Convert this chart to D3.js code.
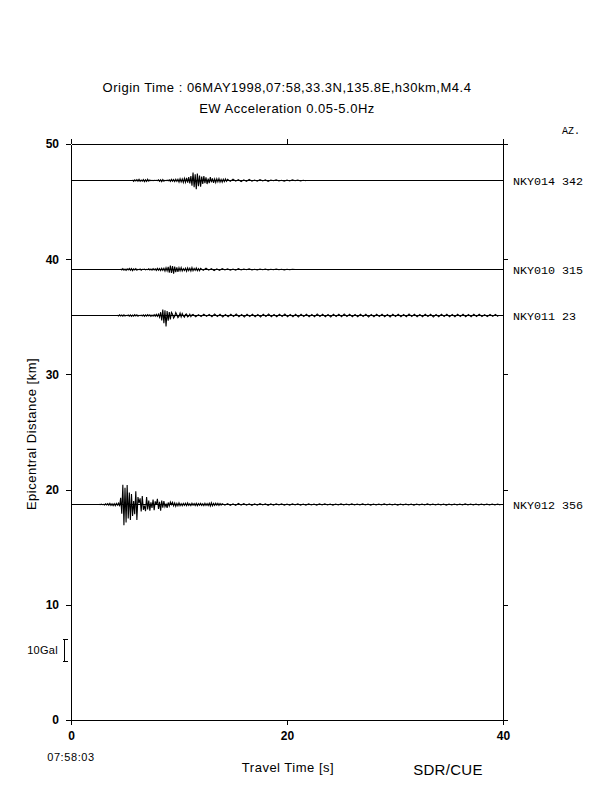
<!DOCTYPE html>
<html><head><meta charset="utf-8">
<script src="https://cdn.jsdelivr.net/npm/d3@7"></script>
<style>
html,body{margin:0;padding:0;background:#fff;}
svg{display:block;}
text{font-family:"Liberation Sans",Arial,sans-serif;fill:#000;}
</style></head>
<body>
<svg id="chart" width="612" height="792"></svg>
<script>
// ---------- data ----------
const titleLines = ["Origin Time : 06MAY1998,07:58,33.3N,135.8E,h30km,M4.4", "EW Acceleration 0.05-5.0Hz"];
const xTicks = [0, 20, 40];
const yTicks = [0, 10, 20, 30, 40, 50];
const stations = ["NKY014", "NKY010", "NKY011", "NKY012"];
const distances = [46.9, 39.15, 35.15, 18.75];
const azimuths = [342, 315, 23, 356];
const burstStart = [5.7, 4.6, 4.3, 2.6];   // s
const burstDt = 0.1;                        // s
const codaDt = 0.25;                        // s
const scaleGal = 10;

// acceleration samples (Gal)
const burst014 = [
  0.3,-0.4,0.3,-0.2,0.4,-0.3,0.5,-0.4,0.2,-0.3,
  0.4,-0.5,0.3,-0.4,0.6,-0.3,0.2,-0.1,0.1,-0.1,
  0.1,0,0.1,-0.1,0.3,-0.4,0.3,-0.5,0.4,-0.3,
  0.1,-0.1,0.2,-0.1,0.3,-0.4,0.5,-0.3,0.4,-0.5,
  0.6,-0.4,0.5,-0.7,0.8,-0.6,0.7,-0.9,1.0,-0.8,
  1.2,-1.0,1.5,-1.3,2.0,
  -2.4,3.6,-3.0,2.8,-4.0,3.2,-2.6,2.2,
  -2.8,1.8,-1.5,2.0,-1.2,
  1.4,-1.6,0.9,-1.2,1.5,-0.8,1.0,-1.1,0.7,-0.9,
  0.8,-0.6,0.9,-0.7,0.5,-0.8,0.6,-0.5,0.7,-0.4];
const coda014 = [
  0.5,-0.4,0.6,-0.3,0.4,-0.5,0.3,-0.4,0.5,-0.3,
  0.2,-0.3,0.4,-0.2,0.3,-0.4,0.2,-0.1,0.3,-0.2,
  0.1,-0.3,0.2,-0.2,0.3,-0.1,0.2,-0.2,0.1,-0.1];

const burst010 = [
  0.3,-0.2,0.4,-0.3,0.2,-0.4,0.3,-0.2,0.5,-0.3,
  0.4,-0.5,0.3,-0.2,0.4,-0.3,0.1,-0.1,0.2,-0.3,
  0.1,0,0.2,-0.2,0.1,-0.1,0.3,-0.2,0.2,-0.3,
  0.4,-0.2,0.3,-0.4,0.5,-0.3,0.4,-0.5,0.6,-0.4,
  0.5,-0.7,0.8,-0.6,
  1.2,-1.4,1.8,-1.6,1.5,-1.9,1.3,-1.2,1.0,-1.1,
  0.8,-0.6,0.9,-0.7,0.4,-0.5,0.6,-0.8,0.7,-0.5,
  0.6,-0.7,0.9,-0.6,0.5,-0.4,0.7,-0.5,0.4,-0.6];
const coda010 = [
  0.5,-0.4,0.6,-0.3,0.4,-0.5,0.3,-0.4,0.4,-0.2,
  0.3,-0.3,0.2,-0.3,0.4,-0.2,0.2,-0.1,0.3,-0.2,
  0.1,-0.2,0.2,-0.1,0.2,-0.2,0.1,-0.1,0.2,-0.1,
  0.1,-0.2,0.1,-0.1,0.1,0];

const burst011 = [
  0.2,-0.2,0.3,-0.2,0.2,-0.3,0.3,-0.2,0.1,-0.1,
  0.2,-0.3,0.3,-0.4,0.2,-0.3,0.4,-0.2,0.3,-0.3,
  0.1,-0.1,0.2,-0.2,0.3,-0.4,0.3,-0.3,0.4,-0.2,
  0.3,-0.4,0.2,-0.3,0.4,-0.3,0.5,-0.4,0.6,-0.8,
  1.5,-2.2,2.7,-3.5,2.4,-5.0,2.0,-2.4,1.6,-1.8,
  1.4,0.6,-1.2,-0.4,1.3,0.3,-1.0,-0.3,1.1,-0.6,
  0.9,-0.2,-0.8,0.5,0.7,-0.6,-0.3,0.6,-0.5,0.3];
const coda011 = [
  0.5,-0.6,0.4,-0.5,0.6,-0.4,0.5,-0.6,0.7,-0.5,
  0.6,-0.7,0.5,-0.6,0.6,-0.5,0.7,-0.6,0.5,-0.7,
  0.6,-0.5,0.6,-0.6,0.5,-0.7,0.6,-0.5,0.7,-0.6,
  0.5,-0.6,0.6,-0.5,0.7,-0.6,0.5,-0.6,0.6,-0.7,
  0.6,-0.5,0.6,-0.6,0.5,-0.6,0.7,-0.5,0.6,-0.6,
  0.5,-0.7,0.6,-0.5,0.6,-0.6,0.7,-0.5,0.6,-0.6,
  0.5,-0.6,0.6,-0.5,0.6,-0.7,0.5,-0.6,0.6,-0.5,
  0.6,-0.6,0.5,-0.7,0.6,-0.5,0.6,-0.6,0.5,-0.6,
  0.7,-0.5,0.6,-0.6,0.5,-0.6,0.6,-0.5,0.6,-0.7,
  0.5,-0.6,0.6,-0.5,0.6,-0.6,0.5,-0.6,0.6,-0.5,
  0.6,-0.6,0.5,-0.6,0.6,-0.5,0.6,-0.5,0.4,-0.5,
  0.5,-0.4,0.5,-0.5];

const burst012 = [
  0.1,-0.1,0.2,-0.1,0.1,-0.2,0.3,-0.2,0.4,-0.3,
  0.5,-0.4,0.3,-0.5,0.4,-0.6,0.5,-0.3,0.6,-0.8,
  3.0,-4.2,9.0,-9.4,7.6,-8.2,8.8,-6.4,5.4,-7.0,
  4.8,-5.2,1.6,-4.4,6.0,-7.0,3.4,0.6,2.8,-3.2,
  3.8,-2.4,-0.5,-3.0,3.4,-2.2,1.8,-2.8,1.0,-1.6,
  2.2,-2.6,1.4,-0.2,2.6,-2.0,1.2,-2.8,1.8,-1.4,
  1.6,-1.0,0.2,-1.5,0.9,-0.7,1.1,-0.1,1.0,-0.6,
  0.7,-0.8,0.5,-0.6,0.8,-0.5,0.4,-0.6,0.5,-0.4,
  0.6,-0.5,0.7,-0.4,0.3,-0.5,0.6,-0.3,0.4,-0.5,
  0.5,-0.6,0.4,-0.3,0.5,-0.4,0.3,-0.5,0.6,-0.4,
  0.4,-0.5,0.6,-0.7,0.8,-0.6,0.5,-0.4,0.6,-0.3,
  0.5,-0.4,0.4,-0.3];
const coda012 = [
  0.4,-0.3,0.4,-0.4,0.3,-0.4,0.5,-0.3,0.4,-0.3,
  0.3,-0.4,0.3,-0.3,0.4,-0.2,0.3,-0.4,0.3,-0.3,
  0.3,-0.2,0.3,-0.3,0.2,-0.3,0.3,-0.2,0.3,-0.3,
  0.2,-0.3,0.3,-0.2,0.2,-0.3,0.3,-0.2,0.3,-0.2,
  0.2,-0.3,0.2,-0.2,0.3,-0.2,0.2,-0.2,0.3,-0.2,
  0.2,-0.2,0.3,-0.2,0.2,-0.3,0.2,-0.2,0.2,-0.2,
  0.3,-0.2,0.2,-0.2,0.2,-0.3,0.2,-0.2,0.2,-0.2,
  0.2,-0.3,0.2,-0.2,0.2,-0.2,0.3,-0.2,0.2,-0.2,
  0.2,-0.2,0.2,-0.3,0.2,-0.2,0.2,-0.2,0.2,-0.2,
  0.3,-0.2,0.2,-0.2,0.2,-0.2,0.2,-0.2,0.2,-0.2,
  0.2,-0.2,0.2,-0.2];

const bursts = [burst014, burst010, burst011, burst012];
const codas = [coda014, coda010, coda011, coda012];

// ---------- drawing ----------
const svg = d3.select("#chart");
const x = d3.scaleLinear().domain([0, 40]).range([71, 503]);
const y = d3.scaleLinear().domain([0, 50]).range([720, 144]);
const amp = d3.scaleLinear().domain([0, 10]).range([0, 22]); // Gal -> px

// titles
svg.append("text").attr("x", 287).attr("y", 92).attr("text-anchor", "middle")
  .style("font-size", "13px").style("letter-spacing", "0.5px").text(titleLines[0]);
svg.append("text").attr("x", 287).attr("y", 113).attr("text-anchor", "middle")
  .style("font-size", "13px").style("letter-spacing", "0.5px").text(titleLines[1]);

// axes
const axL = d3.axisLeft(y).tickValues(yTicks).tickSize(5).tickSizeOuter(0).tickPadding(7);
const axR = d3.axisRight(y).tickValues(yTicks).tickSize(5).tickSizeOuter(0).tickFormat("");
const axT = d3.axisTop(x).tickValues(xTicks).tickSize(5).tickSizeOuter(0).tickFormat("");
const axB = d3.axisBottom(x).tickValues(xTicks).tickSize(5).tickSizeOuter(0).tickPadding(6);

function styleAxis(g) {
  g.selectAll("path,line").attr("stroke", "#000").attr("stroke-width", 1).attr("shape-rendering", "crispEdges");
  g.selectAll("text").style("font-family", '"Liberation Sans",Arial,sans-serif')
    .style("font-size", "12px").style("font-weight", "bold").attr("fill", "#000");
}
svg.append("g").attr("transform", "translate(71,0)").call(axL).call(styleAxis);
svg.append("g").attr("transform", "translate(503,0)").call(axR).call(styleAxis);
svg.append("g").attr("transform", "translate(0,144)").call(axT).call(styleAxis);
svg.append("g").attr("transform", "translate(0,720)").call(axB).call(styleAxis);

// baselines and traces
const line = d3.line().x(d => x(d.t)).y(d => d.yb - amp(d.a));
stations.forEach((s, i) => {
  const yb = Math.round(y(distances[i])) + 0.5;
  svg.append("line").attr("x1", x(0)).attr("x2", x(40)).attr("y1", yb).attr("y2", yb)
    .attr("stroke", "#000").attr("stroke-width", 1);
  const t0 = burstStart[i];
  const pts = bursts[i].map((a, k) => ({t: t0 + k * burstDt, a, yb}));
  const tc = t0 + bursts[i].length * burstDt;
  codas[i].forEach((a, k) => pts.push({t: tc + k * codaDt, a, yb}));
  svg.append("path").datum(pts.filter(p => p.t <= 40)).attr("d", line)
    .attr("fill", "none").attr("stroke", "#000").attr("stroke-width", 1.1);
  svg.append("text").attr("x", 513).attr("y", yb + 4)
    .style("font-family", '"Liberation Mono","DejaVu Sans Mono",monospace').style("font-size", "11.7px")
    .text(s + " " + azimuths[i]);
});

svg.append("text").attr("x", 562).attr("y", 134)
  .style("font-family", '"Liberation Mono","DejaVu Sans Mono",monospace').style("font-size", "10px").text("AZ.");

// scale bar
const sbX = 64.5, sbMid = 650, sbH = amp(scaleGal);
const sb = svg.append("g").attr("stroke", "#000").attr("stroke-width", 1).attr("shape-rendering", "crispEdges");
sb.append("line").attr("x1", sbX).attr("x2", sbX).attr("y1", sbMid - sbH / 2).attr("y2", sbMid + sbH / 2);
sb.append("line").attr("x1", sbX - 2).attr("x2", sbX + 3).attr("y1", sbMid - sbH / 2).attr("y2", sbMid - sbH / 2);
sb.append("line").attr("x1", sbX - 2).attr("x2", sbX + 3).attr("y1", sbMid + sbH / 2).attr("y2", sbMid + sbH / 2);
svg.append("text").attr("x", 58).attr("y", sbMid + 4).attr("text-anchor", "end")
  .style("font-size", "11px").style("letter-spacing", "0.3px").text(scaleGal + "Gal");

// axis titles
svg.append("text").attr("transform", "translate(36,434) rotate(-90)").attr("text-anchor", "middle")
  .style("font-size", "13px").style("letter-spacing", "0.5px").text("Epicentral Distance [km]");
svg.append("text").attr("x", 288).attr("y", 772).attr("text-anchor", "middle")
  .style("font-size", "13px").style("letter-spacing", "0.5px").text("Travel Time [s]");
svg.append("text").attr("x", 71).attr("y", 761).attr("text-anchor", "middle")
  .style("font-size", "11px").style("letter-spacing", "0.6px").text("07:58:03");
svg.append("text").attr("x", 448).attr("y", 775).attr("text-anchor", "middle")
  .style("font-size", "15px").style("letter-spacing", "0.3px").text("SDR/CUE");
</script>
</body></html>
